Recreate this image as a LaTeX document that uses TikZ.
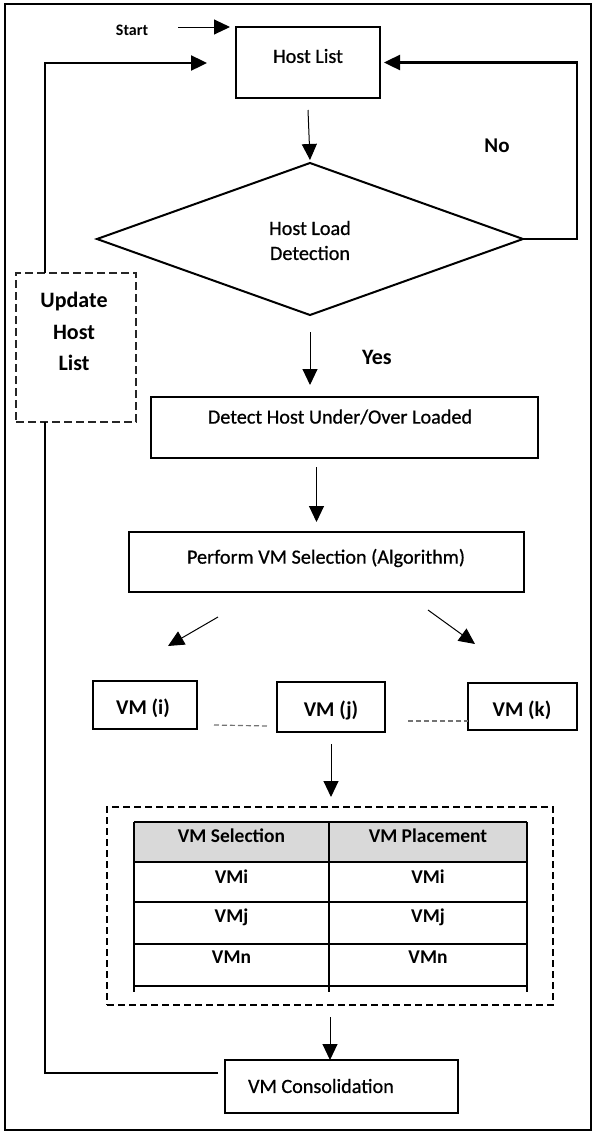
\documentclass[tikz,border=0pt]{standalone}
\usepackage{fontspec}
\setmainfont{Carlito}
\newfontfamily\semifont[FakeBold=0.7]{Carlito}
\usetikzlibrary{arrows.meta,shapes.geometric}
\begin{document}
\begin{tikzpicture}[x=1pt,y=-1pt,
  box/.style={draw, line width=2.2pt, inner sep=0pt, outer sep=0pt},
  txt/.style={font=\semifont\fontsize{20.2}{25}\selectfont, inner sep=0pt, align=center},
  btxt/.style={font=\fontsize{21}{31.5}\selectfont\bfseries, inner sep=0pt, align=center},
  tbtxt/.style={font=\fontsize{19.5}{23}\selectfont\bfseries, inner sep=0pt},
  headed/.style={-{Triangle[length=16pt,width=15pt]}},
  arr/.style={headed, line width=1pt},
  loopline/.style={line width=2.4pt},
  gdash/.style={draw=black!55, line width=1.2pt, dash pattern=on 5pt off 3pt},
  tline/.style={line width=1.4pt},
]
\useasboundingbox (0,0) rectangle (595,1133);
\draw[line width=2pt] (5,4) rectangle (591,1130);

% ---- nodes
\node[box, minimum width=144pt, minimum height=71pt] (host) at (308,62.5) {};
\node[txt] (hostT) at (308,56) {Host List};
\node[font=\fontsize{16}{18}\selectfont\bfseries, inner sep=0pt] (start) at (132,30) {Start};

\node[draw, diamond, line width=2pt, minimum width=426pt, minimum height=152pt, inner sep=0pt, outer sep=0pt] (dec) at (310,239) {};
\node[txt] (decT) at (310,240.5) {Host Load\\Detection};
\node[btxt] (no) at (497,146) {No};

\node[draw=black!85, line width=1.3pt, dash pattern=on 8pt off 4pt, minimum width=120pt, minimum height=149pt, inner sep=0pt, outer sep=0pt] (upd) at (76,347.5) {};
\node[font=\fontsize{22}{31.5}\selectfont\bfseries, inner sep=0pt, align=center] (updT) at (74,331.5) {Update\\Host\\List};

\node[font=\fontsize{22}{26}\selectfont\bfseries, inner sep=0pt] (yes) at (377,357) {Yes};
\node[box, minimum width=387pt, minimum height=61pt] (detect) at (344.5,427.5) {};
\node[txt] (detectT) at (340,417) {Detect Host Under/Over Loaded};

\node[box, minimum width=395pt, minimum height=60pt] (perf) at (326.5,562) {};
\node[txt] (perfT) at (326,558) {Perform VM Selection (Algorithm)};

\node[box, minimum width=104pt, minimum height=48pt] (vmi) at (145,705) {};
\node[btxt] (vmiT) at (143,708) {VM (i)};
\node[box, minimum width=108pt, minimum height=50pt] (vmj) at (331,707) {};
\node[btxt] (vmjT) at (331,710) {VM (j)};
\node[box, minimum width=109pt, minimum height=47pt] (vmk) at (522.5,706.5) {};
\node[btxt] (vmkT) at (522,710) {VM (k)};

\node[draw, line width=2pt, dash pattern=on 7pt off 4pt, minimum width=446pt, minimum height=198pt, inner sep=0pt, outer sep=0pt] (tbl) at (330,906) {};

% table
\fill[black!15] (134,822) rectangle (527,862);
\draw[tline] (134,822) -- (527,822);
\draw[tline] (134,862) -- (527,862);
\draw[tline] (134,902) -- (527,902);
\draw[tline] (134,944) -- (527,944);
\draw[tline] (134,986) -- (527,986);
\draw[tline] (134,822) -- (134,992);
\draw[tline] (329,822) -- (329,992);
\draw[tline] (527,822) -- (527,992);
\node[tbtxt] (h1) at (231.5,836) {VM Selection};
\node[tbtxt] (h2) at (428,836) {VM Placement};
\node[tbtxt] (r1a) at (231.5,877) {VMi};
\node[tbtxt] (r1b) at (428,877) {VMi};
\node[tbtxt] (r2a) at (231.5,917) {VMj};
\node[tbtxt] (r2b) at (428,917) {VMj};
\node[tbtxt] (r3a) at (231.5,957) {VMn};
\node[tbtxt] (r3b) at (428,957) {VMn};

\node[box, minimum width=233pt, minimum height=53pt] (cons) at (341.5,1086.5) {};
\node[txt] (consT) at (321,1086) {VM Consolidation};

% ---- connectors
\coordinate (s0) at (178,27);
\draw[arr] (s0) -- ([xshift=-6pt]host.north west);

\draw[arr] ([yshift=-12pt]host.south) -- ([yshift=3pt]dec.north);
\draw[loopline, headed] (dec.east) -- ++(54,0) |- ([xshift=4pt]host.east);

\coordinate (lb) at (45,1073);
\coordinate (hin) at (207,63);
\draw[loopline] ([xshift=-7pt]cons.west |- lb) -- (lb) -- (upd.south -| lb);
\draw[loopline, headed] (upd.north -| lb) |- (hin);

\draw[arr] ([yshift=-17pt]dec.south) -- ([yshift=12pt]dec.south |- detect.north);

\coordinate (a2) at (316.5,467);
\draw[arr] (a2) -- ([yshift=10pt]a2 |- perf.north);

\coordinate (dl0) at (218,617);
\coordinate (dl1) at (168,646);
\draw[arr] (dl0) -- (dl1);
\coordinate (dr0) at (428,610);
\coordinate (dr1) at (475,644);
\draw[arr] (dr0) -- (dr1);

\draw[gdash] ([xshift=17pt,yshift=-20pt]vmi.east) -- ([xshift=-9pt,yshift=-19pt]vmj.west);
\draw[gdash] ([xshift=23pt,yshift=-14pt]vmj.east) -- ([yshift=-14.5pt]vmk.west);

\draw[arr] ([yshift=-12pt]vmj.south) -- ([yshift=10pt]vmj.south |- tbl.north);
\draw[arr] ([yshift=-12pt]tbl.south) -- (tbl.south |- cons.north);
\end{tikzpicture}
\end{document}
